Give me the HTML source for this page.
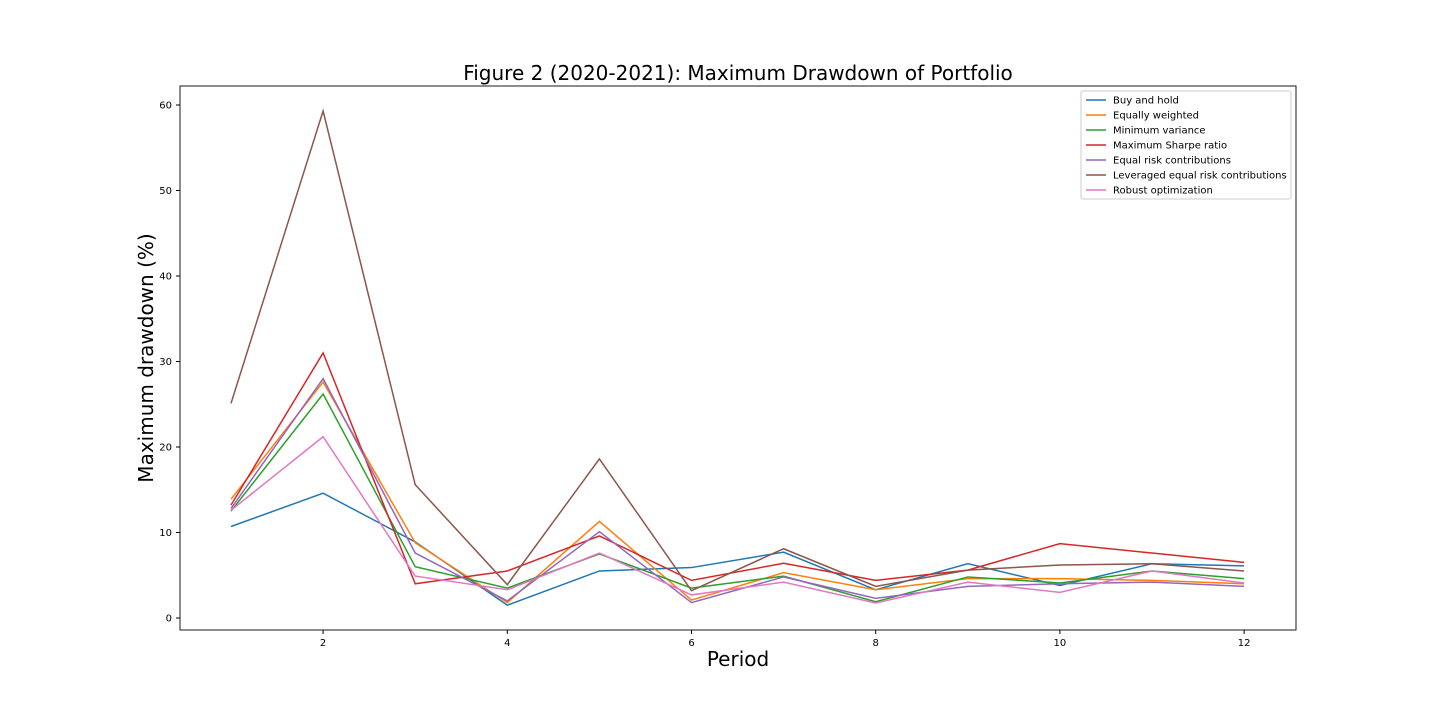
<!DOCTYPE html>
<html><head><meta charset="utf-8"><style>
body{margin:0;background:#fff;}
svg{font-family:"DejaVu Sans","Liberation Sans",sans-serif;display:block;}
</style></head><body>
<svg id="chart" width="1440" height="720">
<rect width="1440" height="720" fill="#fff"/>
<text x="738" y="80" font-size="20" text-anchor="middle">Figure 2 (2020-2021): Maximum Drawdown of Portfolio</text>
<text x="738" y="666" font-size="20" text-anchor="middle">Period</text>
<text x="153" y="358" font-size="20" text-anchor="middle" transform="rotate(-90 153 358)">Maximum drawdown (%)</text>
<g id="ticks"></g>
<g id="series"></g>
<rect x="180" y="86" width="1116" height="544" fill="none" stroke="#000" stroke-width="0.9"/>
<g id="legend"></g>
</svg>
<script>
const periods=[1,2,3,4,5,6,7,8,9,10,11,12];
const xTicks=[2,4,6,8,10,12];
const yTicks=[0,10,20,30,40,50,60];
const names=["Buy and hold","Equally weighted","Minimum variance","Maximum Sharpe ratio","Equal risk contributions","Leveraged equal risk contributions","Robust optimization"];
const colors=["#1f77b4","#ff7f0e","#2ca02c","#d62728","#9467bd","#8c564b","#e377c2"];
const buyHold=[10.7,14.6,8.9,1.5,5.5,5.9,7.7,3.3,6.35,3.8,6.35,6.1];
const equalW=[13.9,27.6,8.8,1.8,11.3,2.1,5.3,3.3,4.6,4.6,4.4,4.0];
const minVar=[12.5,26.2,6.0,3.5,7.5,3.5,4.9,1.9,4.8,4.1,5.5,4.6];
const maxSharpe=[13.2,31.0,4.0,5.5,9.6,4.4,6.4,4.4,5.6,8.7,7.6,6.5];
const erc=[12.8,28.0,7.6,2.0,10.1,1.8,4.8,2.3,3.7,4.0,4.2,3.7];
const levErc=[25.1,59.3,15.6,3.9,18.6,3.2,8.1,3.7,5.6,6.2,6.35,5.5];
const robust=[12.6,21.2,4.9,3.3,7.6,2.7,4.2,1.75,4.2,3.0,5.5,4.1];
const allSeries=[buyHold,equalW,minVar,maxSharpe,erc,levErc,robust];
const NS="http://www.w3.org/2000/svg";
function xs(v){return 231+(v-1)*92.1;}
function ys(v){return 618-v*8.55;}
function mk(t,a,p){const e=document.createElementNS(NS,t);for(const k in a)e.setAttribute(k,a[k]);p.appendChild(e);return e;}
const tg=document.getElementById('ticks');
xTicks.forEach(t=>{
 const l=mk('line',{x1:xs(t),x2:xs(t),y1:630,y2:634,stroke:'#000'},tg);
 
 
 const tx=mk('text',{x:xs(t),y:646,'font-size':10,'text-anchor':'middle'},tg);tx.textContent=t;
 
 
});
yTicks.forEach(t=>{
 const l=mk('line',{x1:176,x2:180,y1:ys(t),y2:ys(t),stroke:'#000'},tg);
 
 
 const tx=mk('text',{x:172,y:ys(t)+3.5,'font-size':10,'text-anchor':'end'},tg);tx.textContent=t;
 
 
});
const sg=document.getElementById('series');
allSeries.forEach((s,i)=>{
 const pl=mk('polyline',{points:s.map((v,j)=>xs(periods[j])+','+ys(v)).join(' '),fill:'none',stroke:colors[i],'stroke-width':1.5},sg);
 
 
});
const lg=document.getElementById('legend');
const box=mk('rect',{x:1081,y:91,width:210,height:108,fill:'#fff',stroke:'#ccc',rx:2},lg);


names.forEach((n,i)=>{
 const y=100+i*15;
 const l=mk('line',{x1:1086,x2:1106,y1:y,y2:y,stroke:colors[i],'stroke-width':1.5},lg);
 
 
 const t=mk('text',{x:1113,y:y+3.5,'font-size':10},lg);t.textContent=n;
 
 
});
</script>
</body></html>
